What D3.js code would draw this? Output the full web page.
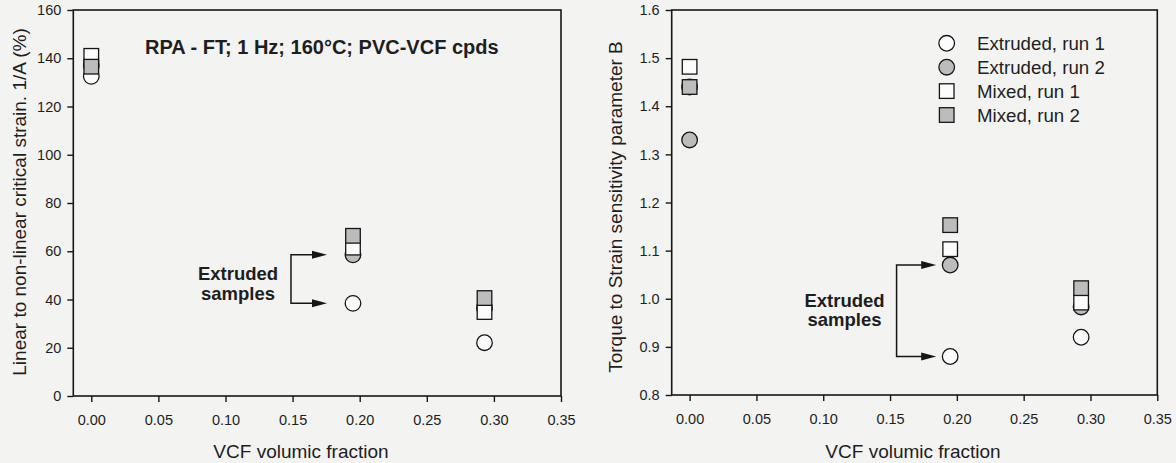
<!DOCTYPE html>
<html>
<head>
<meta charset="utf-8">
<title>PVC-VCF strain</title>
<script src="https://cdn.jsdelivr.net/npm/d3@7/dist/d3.min.js"></script>
<style>
  body { margin: 0; background: #f3f3f1; }
  svg { display: block; font-family: "Liberation Sans", Arial, sans-serif; }
</style>
</head>
<body>
<script>
// x positions (VCF volumic fraction)
var vcf = [0.0, 0.195, 0.293];
var xTicks = [0, 0.05, 0.10, 0.15, 0.20, 0.25, 0.30, 0.35];

// left chart: 1/A (%)
var strainExtruded1 = [132.5, 38.4, 22.1];
var strainExtruded2 = [137, 58.5, 36.4];
var strainMixed1 = [141, 61.5, 34.8];
var strainMixed2 = [136.5, 66.4, 40.6];
var strainTicks = [0, 20, 40, 60, 80, 100, 120, 140, 160];

// right chart: parameter B
var torqueExtruded1 = [1.44, 0.88, 0.92];
var torqueExtruded2 = [1.33, 1.07, 0.983];
var torqueMixed1 = [1.482, 1.103, 0.992];
var torqueMixed2 = [1.44, 1.153, 1.022];
var torqueTicks = [0.8, 0.9, 1.0, 1.1, 1.2, 1.3, 1.4, 1.5, 1.6];

var seriesNames = ["Extruded, run 1", "Extruded, run 2", "Mixed, run 1", "Mixed, run 2"];
var seriesShape = ["circle", "circle", "square", "square"];
var seriesFill = ["#fcfcfc", "#bcbcbc", "#fcfcfc", "#bcbcbc"];

var ink = "#161616";
var svg = d3.select("body").append("svg").attr("width", 1176).attr("height", 463);

function drawMarker(g, shape, fill, cx, cy) {
    if (shape === "circle") {
        g.append("circle").attr("cx", cx).attr("cy", cy).attr("r", 7.8)
            .attr("fill", fill).attr("stroke", ink).attr("stroke-width", 1.3);
    } else {
        g.append("rect").attr("x", cx - 7.3).attr("y", cy - 7.3)
            .attr("width", 14.6).attr("height", 14.6)
            .attr("fill", fill).attr("stroke", ink).attr("stroke-width", 1.3);
    }
}

function drawPanel(p) {
    var x = d3.scaleLinear().domain([-0.0134, 0.35]).range([p.left, p.right]);
    var y = d3.scaleLinear().domain(p.yDomain).range([p.bottom, p.top]);

    // frame
    svg.append("rect").attr("x", p.left).attr("y", p.top)
        .attr("width", p.right - p.left).attr("height", p.bottom - p.top)
        .attr("fill", "none").attr("stroke", ink).attr("stroke-width", 1.6);

    var gx = svg.append("g").attr("transform", "translate(0," + p.bottom + ")")
        .call(d3.axisBottom(x).tickValues(xTicks).tickFormat(d3.format(".2f"))
            .tickSize(6).tickSizeOuter(0).tickPadding(13));
    var gy = svg.append("g").attr("transform", "translate(" + p.left + ",0)")
        .call(d3.axisLeft(y).tickValues(p.yTicks).tickFormat(p.yFormat)
            .tickSize(6).tickSizeOuter(0).tickPadding(6));
    [gx, gy].forEach(function (g) {
        g.select(".domain").remove();
        g.selectAll("line").attr("stroke", ink).attr("stroke-width", 1.4);
        g.selectAll("text").attr("fill", "#1e1e1e").attr("font-size", 14.5)
            .attr("font-family", "Liberation Sans, Arial, sans-serif");
    });

    // axis titles
    svg.append("text").attr("x", p.xTitleX).attr("y", 458)
        .attr("text-anchor", "middle").attr("font-size", 19).attr("fill", "#1e1e1e")
        .text("VCF volumic fraction");
    svg.append("text")
        .attr("transform", "translate(" + p.yTitleX + "," + p.yTitleY + ") rotate(-90)")
        .attr("text-anchor", "middle").attr("dy", "0.35em")
        .attr("font-size", 19).attr("fill", "#1e1e1e")
        .text(p.yTitle);

    // points: circles first, squares drawn on top
    var marks = svg.append("g");
    p.series.forEach(function (vals, s) {
        vals.forEach(function (v, i) {
            drawMarker(marks, seriesShape[s], seriesFill[s], x(vcf[i]), y(v));
        });
    });

    // "Extruded samples" bracket with two arrows
    var cx = x(vcf[1]);
    var yA = y(p.series[1][1]), yB = y(p.series[0][1]);
    var tip = cx - p.tipGap, vx = cx - p.barGap;
    var a = svg.append("g").attr("stroke", ink).attr("stroke-width", 1.5).attr("fill", "none");
    a.append("path").attr("d", "M" + (tip - 12) + "," + yA + "H" + vx + "V" + yB + "H" + (tip - 12));
    [yA, yB].forEach(function (yy) {
        svg.append("path")
            .attr("d", "M" + tip + "," + yy + "L" + (tip - 15) + "," + (yy - 4) + "L" + (tip - 15) + "," + (yy + 4) + "Z")
            .attr("fill", ink);
    });
    var lab = svg.append("text").attr("text-anchor", "middle").attr("font-weight", "bold")
        .attr("font-size", 18.5).attr("fill", "#1e1e1e");
    lab.append("tspan").attr("x", p.labelX).attr("y", p.labelY).text("Extruded");
    lab.append("tspan").attr("x", p.labelX).attr("y", p.labelY + 19.5).text("samples");

    return { x: x, y: y };
}

drawPanel({
    left: 73.3, right: 561, top: 10, bottom: 396,
    yDomain: [0, 160], yTicks: strainTicks, yFormat: d3.format("d"),
    yTitle: "Linear to non-linear critical strain. 1/A (%)", yTitleX: 19, yTitleY: 202,
    xTitleX: 301,
    series: [strainExtruded1, strainExtruded2, strainMixed1, strainMixed2],
    tipGap: 26, barGap: 62, labelX: 238, labelY: 280
});

drawPanel({
    left: 671.7, right: 1157.3, top: 10, bottom: 395,
    yDomain: [0.8, 1.6], yTicks: torqueTicks, yFormat: d3.format(".1f"),
    yTitle: "Torque to Strain sensitivity parameter B", yTitleX: 615, yTitleY: 207,
    xTitleX: 913,
    series: [torqueExtruded1, torqueExtruded2, torqueMixed1, torqueMixed2],
    tipGap: 14, barGap: 53.6, labelX: 844.5, labelY: 306.5
});

// chart title on the left panel
svg.append("text").attr("x", 145).attr("y", 53.5)
    .attr("font-weight", "bold").attr("font-size", 20).attr("fill", "#1e1e1e")
    .text("RPA - FT; 1 Hz; 160°C; PVC-VCF cpds");

// legend on the right panel
var leg = svg.append("g");
seriesNames.forEach(function (name, i) {
    var ly = 43.3 + i * 23.9;
    drawMarker(leg, seriesShape[i], seriesFill[i], 946.7, ly);
    leg.append("text").attr("x", 977).attr("y", ly).attr("dy", "0.35em")
        .attr("font-size", 18.7).attr("fill", "#1e1e1e").text(name);
});
</script>
</body>
</html>
